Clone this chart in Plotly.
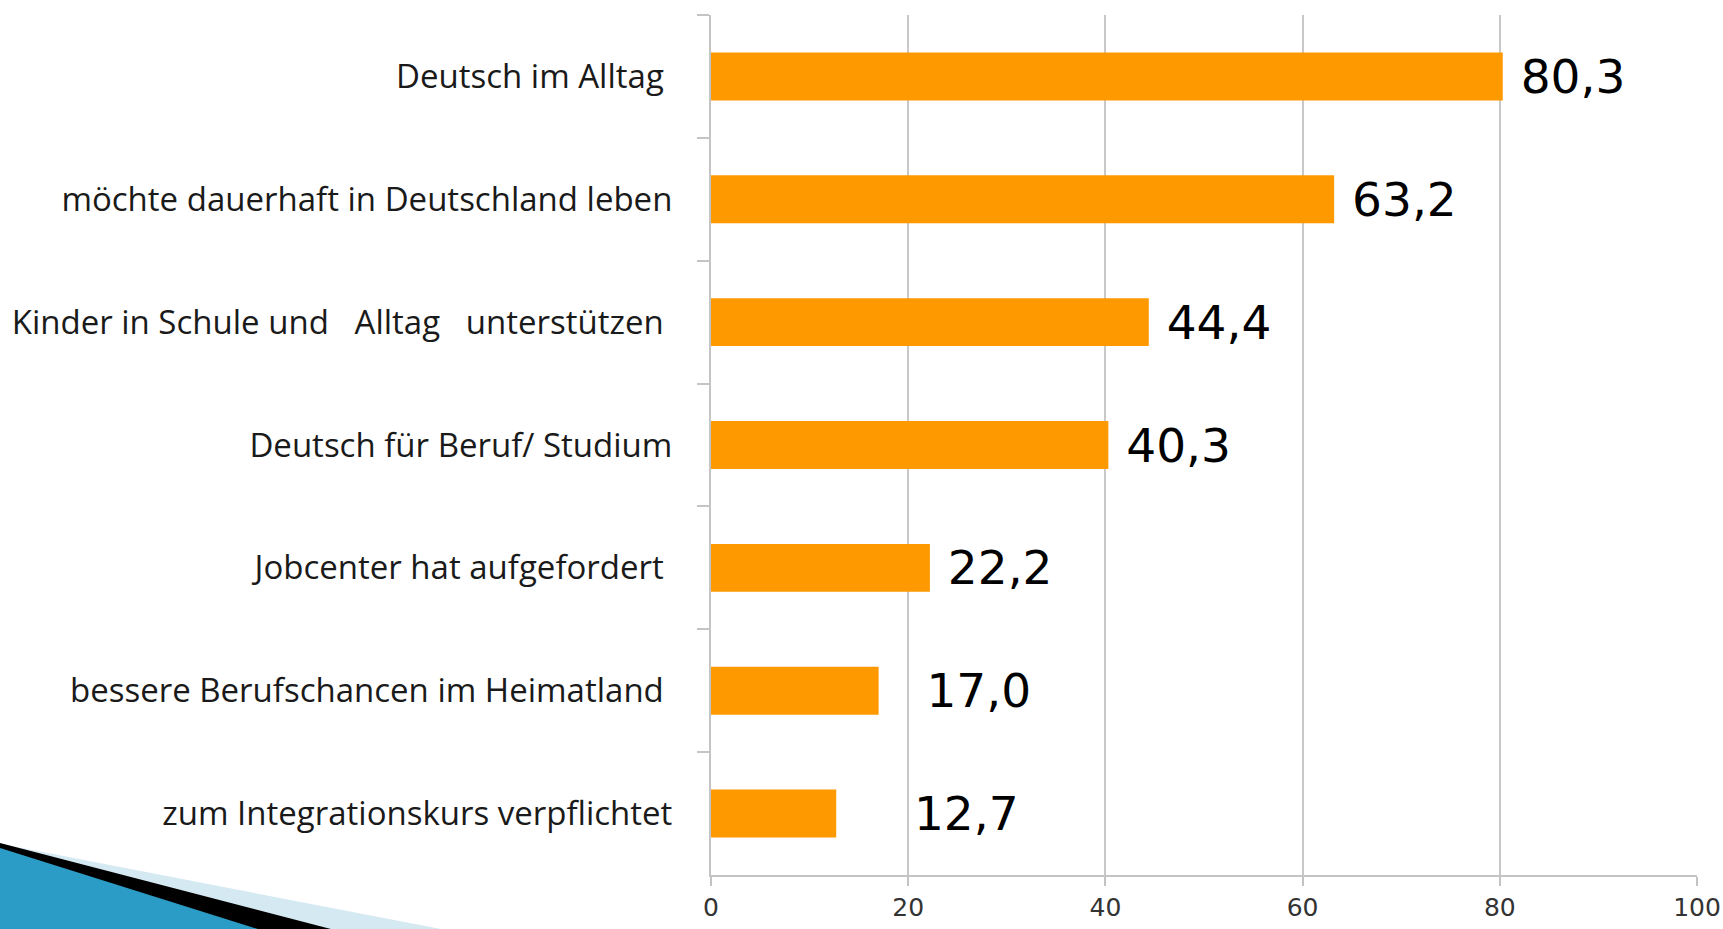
import plotly.graph_objects as go

categories = [
    "Deutsch im Alltag\u00a0",
    "möchte dauerhaft in Deutschland leben",
    "Kinder in Schule und \u00a0\u00a0Alltag \u00a0\u00a0unterstützen\u00a0",
    "Deutsch für Beruf/ Studium",
    "Jobcenter hat aufgefordert\u00a0",
    "bessere Berufschancen im Heimatland\u00a0",
    "zum Integrationskurs verpflichtet",
]
values = [80.3, 63.2, 44.4, 40.3, 22.2, 17.0, 12.7]
x_ticks = [0, 20, 40, 60, 80, 100]
label_pad = [1, 1, 1, 1, 1, 3, 5]

texts = ["\u00a0" * p + f"{v:.1f}".replace(".", ",") for v, p in zip(values, label_pad)]

fig = go.Figure()
fig.add_trace(go.Bar(
    y=categories, x=values, orientation="h",
    marker=dict(color="#FF9900", line=dict(width=0)),
    text=texts, textposition="outside", constraintext="none", cliponaxis=False,
    textfont=dict(family="DejaVu Sans", size=47, color="#000000"),
    hoverinfo="skip",
))

W, H = 1723, 929
L, R, T, B = 711, 1697, 15, 875
def px(x, y):
    return (x - L) / (R - L), (B - y) / (B - T)

def path(points):
    s = ""
    for i, (x, y) in enumerate(points):
        xp, yp = px(x, y)
        s += ("M" if i == 0 else "L") + f"{xp:.5f},{yp:.5f} "
    return s + "Z"

shapes = [
    dict(type="path", xref="paper", yref="paper",
         path=path([(-20, 840), (472, 935), (472, 945), (-20, 945)]),
         fillcolor="#d5e9f2", line=dict(width=0), layer="above"),
    dict(type="path", xref="paper", yref="paper",
         path=path([(-20, 837.8), (354, 935), (354, 945), (-20, 945)]),
         fillcolor="#000000", line=dict(width=0), layer="above"),
    dict(type="path", xref="paper", yref="paper",
         path=path([(-20, 841.7), (277, 935), (277, 945), (-20, 945)]),
         fillcolor="#2b9cc5", line=dict(width=0), layer="above"),
]

fig.update_layout(
    width=W, height=H,
    margin=dict(l=L, r=W - R, t=T, b=H - B, pad=0, autoexpand=False),
    paper_bgcolor="white", plot_bgcolor="white",
    showlegend=False, bargap=0.61,
    shapes=shapes,
    xaxis=dict(
        range=[0, 100], tickvals=x_ticks, showgrid=True, gridcolor="#c8c8c8", gridwidth=2,
        showline=True, linecolor="#c4c4c4", linewidth=2, zeroline=False, automargin=False,
        ticks="outside", ticklen=9, tickwidth=2, tickcolor="#c4c4c4",
        tickfont=dict(family="DejaVu Sans", size=25, color="#333333"),
    ),
    yaxis=dict(
        type="category", autorange="reversed", showgrid=False, automargin=False,
        showline=True, linecolor="#c4c4c4", linewidth=2,
        ticks="outside", tickson="boundaries", ticklen=12, tickwidth=2, tickcolor="#c4c4c4",
        ticklabelstandoff=30,
        tickfont=dict(family="Open Sans", size=33, color="#1a1a1a"),
    ),
)

fig.write_html(
    "out.html",
    config={"displayModeBar": False},
    post_script="document.body.style.margin='0';document.documentElement.style.overflow='hidden';",
)
